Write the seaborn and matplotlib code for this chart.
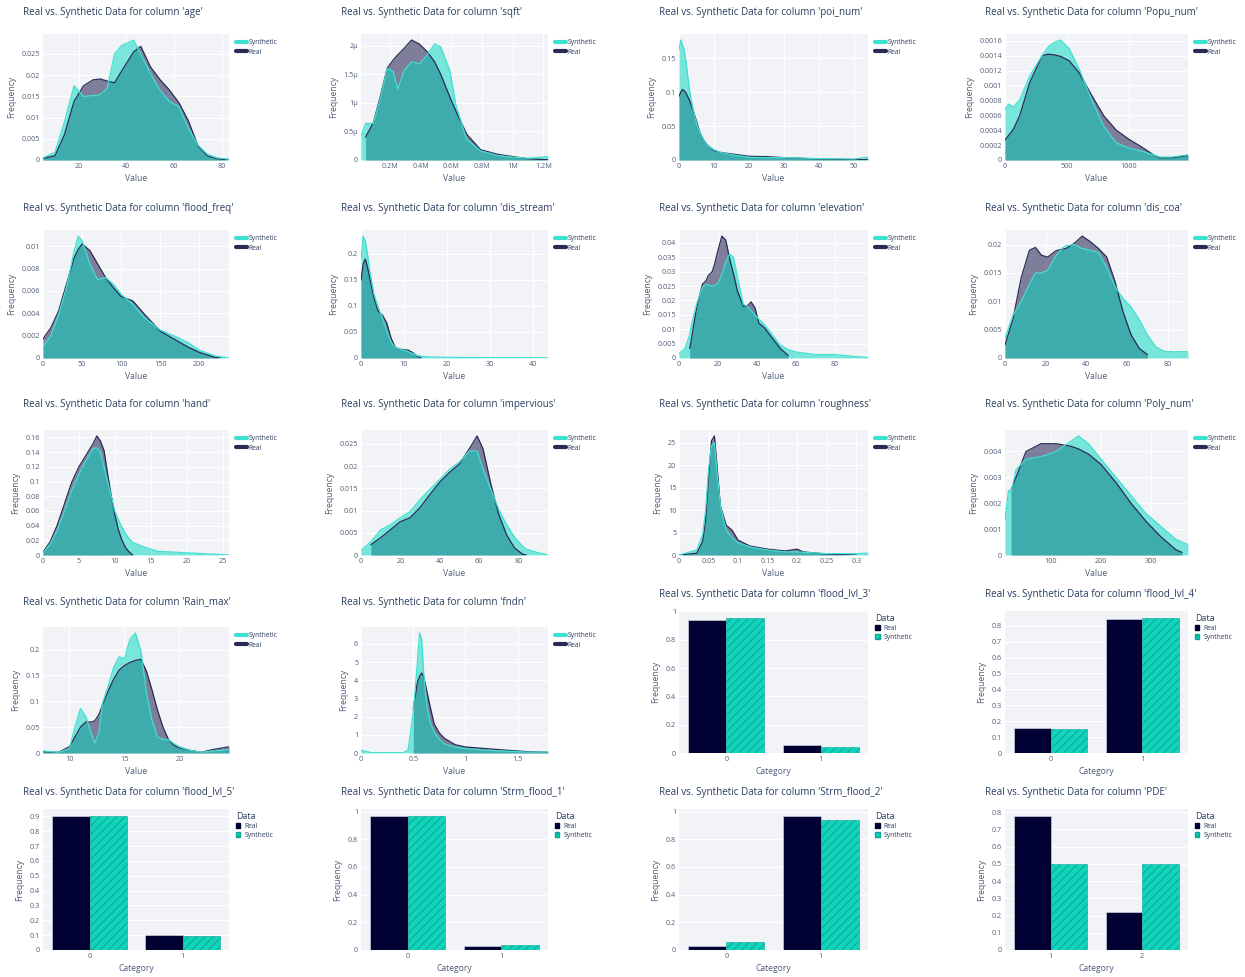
import numpy as np
import pandas as pd
import seaborn as sns
import matplotlib as mpl
import matplotlib.pyplot as plt
from matplotlib.ticker import MultipleLocator, FuncFormatter
from matplotlib.lines import Line2D
from matplotlib.patches import Patch

mpl.use('Agg')
sns.set_theme(style='white')
plt.rcParams['font.family'] = ['Open Sans', 'DejaVu Sans']
plt.rcParams['hatch.linewidth'] = 0.7

nan = np.nan

# ---------------- density curves ----------------
age_x = [5, 10, 14, 18, 22, 26, 29, 32, 35, 38, 43, 46, 50, 54, 58, 62, 66, 70, 74, 78, 83]
age_real = [0.0004, 0.001, 0.006, 0.0138, 0.0175, 0.0189, 0.0191, 0.0186, 0.0182, 0.021, 0.0255,
            0.0268, 0.022, 0.019, 0.0165, 0.0135, 0.0092, 0.0033, 0.001, 0.0003, 0.0]
age_synth = [0.0005, 0.0018, 0.009, 0.0175, 0.015, 0.0152, 0.0154, 0.017, 0.025, 0.027, 0.0283,
             0.025, 0.0205, 0.0165, 0.0138, 0.0126, 0.0075, 0.0035, 0.0013, 0.0005, 0.0002]

sqft_x = [0.01e6, 0.04e6, 0.09e6, 0.135e6, 0.18e6, 0.22e6, 0.25e6, 0.29e6, 0.34e6, 0.39e6, 0.44e6,
          0.49e6, 0.53e6, 0.59e6, 0.63e6, 0.7e6, 0.79e6, 0.9e6, 1.0e6, 1.1e6, 1.23e6]
sqft_real = np.array([nan, 0.4, 0.65, 1.1, 1.6, 1.75, 1.84, 1.95, 2.1, 2.03, 1.9, 1.72, 1.5, 1.1,
                      0.85, 0.45, 0.18, 0.1, 0.06, 0.02, 0.005]) * 1e-6
sqft_synth = np.array([0.42, 0.64, 0.64, 1.06, 1.6, 1.55, 1.24, 1.56, 1.72, 1.68, 1.83, 2.03, 1.98,
                       1.56, 0.95, 0.36, 0.16, 0.08, 0.05, 0.03, 0.06]) * 1e-6

poi_x = [0, 0.5, 1, 1.5, 2, 3, 4, 5, 6, 7, 8, 10, 12, 15, 20, 25, 30, 40, 50, 54]
poi_real = [0.094, 0.1, 0.104, 0.102, 0.099, 0.088, 0.074, 0.057, 0.04, 0.03, 0.0225, 0.014,
            0.011, 0.009, 0.0055, 0.005, 0.0035, 0.0015, 0.0005, 0.0005]
poi_synth = [0.162, 0.177, 0.17, 0.162, 0.145, 0.103, 0.075, 0.054, 0.04, 0.03, 0.022, 0.015,
             0.011, 0.008, 0.004, 0.0035, 0.0035, 0.002, 0.0015, 0.004]

popu_x = [0, 30, 70, 120, 200, 300, 350, 400, 450, 520, 600, 700, 800, 900, 1000, 1100, 1200,
          1250, 1350, 1480]
popu_real = [0.00027, 0.00033, 0.00042, 0.0006, 0.00104, 0.0014, 0.00142, 0.00141, 0.00139,
             0.00133, 0.00117, 0.00087, 0.00059, 0.0004, 0.00028, 0.00018, 0.00007, 0.00003,
             0.00003, 0.00006]
popu_synth = [0.00068, 0.00075, 0.00071, 0.00081, 0.00113, 0.0014, 0.00152, 0.00158, 0.00161,
              0.00149, 0.00122, 0.00081, 0.00045, 0.00023, 0.00016, 0.00012, 0.00007, 0.00004,
              0.00004, 0.00007]

ff_x = [0, 10, 20, 30, 40, 45, 50, 60, 70, 80, 90, 100, 115, 130, 150, 170, 185, 200, 220, 228, 238]
ff_real = [0.0017, 0.0027, 0.0042, 0.0066, 0.009, 0.0097, 0.0102, 0.0096, 0.0084, 0.0072, 0.0063,
           0.0055, 0.0051, 0.0039, 0.0024, 0.0016, 0.001, 0.0005, 0.00005, 0.0, nan]
ff_synth = [0.001, 0.002, 0.0039, 0.0063, 0.0096, 0.0109, 0.0105, 0.0084, 0.007, 0.0072, 0.0066,
            0.0057, 0.0048, 0.0036, 0.0025, 0.0019, 0.0014, 0.0007, 0.0002, 0.0001, 0.0]

ds_x = [0, 0.5, 1, 1.5, 2, 3, 4, 5, 6, 7, 8, 9, 10, 11, 12, 13, 14, 16, 20, 30, 43.5]
ds_real = [0.149, 0.18, 0.19, 0.175, 0.155, 0.116, 0.09, 0.082, 0.067, 0.038, 0.02, 0.017, 0.016,
           0.015, 0.0105, 0.004, 0.0, nan, nan, nan, nan]
ds_synth = [0.188, 0.234, 0.225, 0.2, 0.169, 0.123, 0.097, 0.077, 0.051, 0.031, 0.02, 0.017, 0.015,
            0.012, 0.0085, 0.005, 0.003, 0.002, 0.0013, 0.0007, 0.0005]

el_x = [0, 3, 5.5, 6, 9, 12, 14, 15, 17, 18, 20, 22, 24, 26, 28, 30, 33, 35, 37, 39, 41, 44, 48,
        52, 56, 60, 70, 80, 90, 97]
el_real = [nan, nan, 0.0033, 0.005, 0.0174, 0.0256, 0.027, 0.0286, 0.030, 0.032, 0.0374, 0.0424,
           0.041, 0.0345, 0.0292, 0.0233, 0.018, 0.018, 0.0195, 0.0174, 0.0121, 0.0104, 0.0068,
           0.0033, 0.0009, nan, nan, nan, nan, nan]
el_synth = [0.0015, 0.0033, 0.008, 0.0104, 0.0186, 0.0247, 0.0256, 0.0254, 0.025, 0.0252, 0.0259,
            0.029, 0.0335, 0.0362, 0.035, 0.028, 0.0186, 0.018, 0.0165, 0.015, 0.0135, 0.0115,
            0.008, 0.0045, 0.0029, 0.0021, 0.0012, 0.0012, 0.0005, 0.0002]

dc_x = [0, 4, 8, 12, 15, 18, 21, 25, 28, 30, 34, 38, 42, 46, 50, 54, 58, 62, 66, 70, 74, 78, 82, 90]
dc_real = [0.0023, 0.007, 0.0142, 0.019, 0.0195, 0.0181, 0.0178, 0.0189, 0.0192, 0.0193, 0.0202,
           0.0215, 0.0205, 0.0193, 0.0178, 0.0136, 0.0082, 0.0041, 0.0017, 0.0006, nan, nan, nan, nan]
dc_synth = [0.0035, 0.0076, 0.01, 0.013, 0.015, 0.015, 0.0155, 0.018, 0.0193, 0.0198, 0.02, 0.0193,
            0.019, 0.0186, 0.016, 0.0127, 0.0105, 0.009, 0.0068, 0.0041, 0.002, 0.0012, 0.0011, 0.0011]

hand_x = [0, 1, 2, 3, 4, 5, 6, 7, 7.5, 8, 8.5, 9, 9.5, 10, 10.5, 11, 11.5, 12, 12.5, 14, 16, 20, 25.9]
hand_real = [0.004, 0.018, 0.041, 0.07, 0.099, 0.12, 0.136, 0.152, 0.162, 0.155, 0.142, 0.11, 0.081,
             0.055, 0.034, 0.02, 0.01, 0.004, 0.0, nan, nan, nan, nan]
hand_synth = [0.003, 0.015, 0.034, 0.06, 0.088, 0.11, 0.129, 0.145, 0.146, 0.14, 0.12, 0.1, 0.08,
              0.06, 0.048, 0.038, 0.029, 0.022, 0.017, 0.011, 0.005, 0.003, 0.0]

imp_x = [0, 5, 10, 15, 20, 25, 30, 35, 40, 45, 50, 55, 59, 62, 66, 70, 74, 78, 82, 84, 90, 95]
imp_real = [nan, 0.0023, 0.0039, 0.0057, 0.0075, 0.0084, 0.0107, 0.0136, 0.0164, 0.0186, 0.0205,
            0.0239, 0.0268, 0.0239, 0.0159, 0.0091, 0.0045, 0.0016, 0.0002, 0.0, nan, nan]
imp_synth = [0.001, 0.003, 0.0057, 0.0068, 0.0084, 0.0098, 0.0125, 0.0148, 0.017, 0.0193, 0.0209,
             0.0234, 0.0234, 0.0193, 0.0148, 0.0102, 0.0068, 0.004, 0.002, 0.0013, 0.0005, 0.0]

rough_x = [0, 0.03, 0.04, 0.045, 0.05, 0.055, 0.06, 0.065, 0.07, 0.08, 0.09, 0.1, 0.12, 0.15, 0.18,
           0.2, 0.21, 0.25, 0.3, 0.32]
rough_real = [0, 0.4, 3, 7.7, 17, 25.4, 26.5, 18.8, 11, 6.6, 5.5, 3.3, 2, 1.3, 0.9, 1.3, 0.7, 0.2, 0, nan]
rough_synth = [0, 1.1, 4.5, 10, 19, 24.3, 25, 17.7, 11, 5.5, 3.8, 2.7, 1.8, 1.1, 0.7, 0.7, 0.6, 0.3,
               0.3, 0.4]

poly_x = [8, 15, 20, 30, 50, 80, 110, 140, 155, 175, 200, 230, 260, 290, 320, 350, 362, 374]
poly_real = [nan, nan, 0.0025, 0.003, 0.004, 0.0043, 0.0043, 0.0042, 0.0041, 0.0039, 0.0035,
             0.0028, 0.002, 0.0013, 0.0007, 0.0002, 0.0001, nan]
poly_synth = [0.00135, 0.0025, 0.0024, 0.0033, 0.0037, 0.0038, 0.004, 0.0044, 0.0046, 0.0043,
              0.0037, 0.003, 0.0023, 0.0016, 0.0011, 0.0006, 0.0005, 0.0004]

rain_x = [7.6, 9, 10, 10.5, 11, 11.5, 12, 12.3, 12.7, 13, 13.5, 14, 14.5, 15, 15.5, 16, 16.5, 17,
          17.5, 18, 18.5, 19, 19.5, 20, 21, 22, 23, 24.5]
rain_real = [0.0026, 0.0013, 0.012, 0.031, 0.05, 0.06, 0.06, 0.062, 0.075, 0.093, 0.119, 0.142,
             0.16, 0.169, 0.175, 0.179, 0.181, 0.158, 0.122, 0.083, 0.05, 0.026, 0.015, 0.01,
             0.005, 0.0013, 0.0065, 0.012]
rain_synth = [0.004, 0.0013, 0.0084, 0.05, 0.086, 0.07, 0.037, 0.019, 0.041, 0.096, 0.128, 0.164,
              0.186, 0.182, 0.22, 0.232, 0.197, 0.116, 0.064, 0.031, 0.026, 0.026, 0.018, 0.012,
              0.005, 0.0013, 0.004, 0.0065]

fndn_x = [0, 0.1, 0.4, 0.45, 0.5, 0.54, 0.56, 0.58, 0.6, 0.63, 0.66, 0.7, 0.75, 0.8, 0.9, 1.0,
          1.2, 1.4, 1.6, 1.79]
fndn_real = [nan, nan, nan, nan, 2.4, 3.9, 4.2, 4.4, 4.2, 3.4, 2.6, 1.6, 1.1, 0.8, 0.46, 0.33,
             0.24, 0.15, 0.07, 0.04]
fndn_synth = [0.15, 0.02, 0.02, 0.15, 2.2, 5.0, 6.6, 6.3, 4.4, 2.6, 1.7, 1.15, 0.75, 0.5, 0.33,
              0.24, 0.15, 0.1, 0.05, 0.05]

# ---------------- categorical columns ----------------
lvl3_cats, lvl3_real, lvl3_synth = ['0', '1'], [0.94, 0.055], [0.955, 0.04]
lvl4_cats, lvl4_real, lvl4_synth = ['0', '1'], [0.16, 0.84], [0.15, 0.85]
lvl5_cats, lvl5_real, lvl5_synth = ['0', '1'], [0.9, 0.1], [0.905, 0.095]
strm1_cats, strm1_real, strm1_synth = ['0', '1'], [0.97, 0.03], [0.965, 0.035]
strm2_cats, strm2_real, strm2_synth = ['0', '1'], [0.03, 0.97], [0.06, 0.94]
pde_cats, pde_real, pde_synth = ['1', '2'], [0.78, 0.22], [0.5, 0.5]

# ---------------- style ----------------
W, H = 1245, 977
BG = '#F2F3F7'
TXT = '#2a3f5f'
TICK = '#4f5d78'
REAL_LINE = '#2b2a55'
REAL_FILL = '#141446'
SYN_FILL = '#00D9C1'
SYN = '#40E0D0'
REAL_BAR = '#000033'
SYN_BAR = '#12d3bc'
HATCH = '#0aa893'

COL_L = [43, 361, 679, 1005]
COL_R = [229, 548, 868, 1188]
DENS_ROWS = [(34, 160), (230, 358), (430, 555), (627, 753)]
DENS_TITLE_Y = [12, 208, 405, 603]
BAR_ROWS = {3: (611, 753), 4: (809, 950)}
BAR_TITLE_Y = {3: 595, 4: 793}


def plain_fmt(v, pos):
    if abs(v) < 1e-12:
        return '0'
    return f'{v:.6g}'


def si_fmt(v, pos):
    if abs(v) < 1e-15:
        return '0'
    if abs(v) >= 1e5:
        return f'{v / 1e6:.6g}M'
    if abs(v) < 1e-3:
        return f'{v * 1e6:.6g}\u00b5'
    return f'{v:.6g}'


def add_ax(fig, row_tb, col):
    top, bot = row_tb
    l, r = COL_L[col], COL_R[col]
    return fig.add_axes([l / W, 1 - bot / H, (r - l) / W, (bot - top) / H])


def style_ax(ax, xstep, ystep, fmt):
    ax.set_facecolor(BG)
    for s in ax.spines.values():
        s.set_visible(False)
    ax.grid(True, color='white', linewidth=0.8)
    ax.set_axisbelow(True)
    ax.yaxis.set_major_locator(MultipleLocator(ystep))
    if xstep is not None:
        ax.xaxis.set_major_locator(MultipleLocator(xstep))
        ax.xaxis.set_major_formatter(FuncFormatter(fmt))
    ax.yaxis.set_major_formatter(FuncFormatter(fmt))
    ax.tick_params(length=0, labelsize=5.2, colors=TICK, pad=2)


def add_title(fig, name, col, y_px):
    fig.text((COL_L[col] - 20) / W, 1 - y_px / H,
             f"Real vs. Synthetic Data for column '{name}'",
             fontsize=7.1, color=TXT, ha='left', va='center')


def draw_density(fig, name, x, real, synth, xstep, ystep, row, col, fmt=plain_fmt):
    ax = add_ax(fig, DENS_ROWS[row], col)
    df = pd.DataFrame({'Value': x, 'Real': real, 'Synthetic': synth})
    ax.fill_between(df['Value'], df['Real'], color=REAL_FILL, alpha=0.52, linewidth=0)
    sns.lineplot(data=df, x='Value', y='Real', ax=ax, color=REAL_LINE, linewidth=0.9)
    ax.fill_between(df['Value'], df['Synthetic'], color=SYN_FILL, alpha=0.5, linewidth=0)
    sns.lineplot(data=df, x='Value', y='Synthetic', ax=ax, color=SYN, linewidth=0.9)
    ymax = np.nanmax(np.concatenate([np.asarray(real, float), np.asarray(synth, float)]))
    ax.set_xlim(x[0], x[-1])
    ax.set_ylim(0, ymax * 1.05)
    style_ax(ax, xstep, ystep, fmt)
    ax.set_xlabel('Value', fontsize=6.2, color=TICK, labelpad=3)
    ax.set_ylabel('Frequency', fontsize=6.2, color=TICK, labelpad=4)
    handles = [Line2D([0], [0], color=SYN, lw=3), Line2D([0], [0], color=REAL_LINE, lw=3)]
    ax.legend(handles, ['Synthetic', 'Real'], loc='upper left', bbox_to_anchor=(1.025, 0.98),
              frameon=False, fontsize=4.9, handlelength=1.5, handletextpad=0.25,
              labelspacing=0.35, borderaxespad=0, labelcolor=TXT)
    add_title(fig, name, col, DENS_TITLE_Y[row])


def draw_bars(fig, name, cats, real, synth, ystep, row, col):
    ax = add_ax(fig, BAR_ROWS[row], col)
    df = pd.DataFrame({'Category': list(cats) * 2,
                       'Frequency': list(real) + list(synth),
                       'Data': ['Real'] * len(cats) + ['Synthetic'] * len(cats)})
    sns.barplot(data=df, x='Category', y='Frequency', hue='Data', order=cats,
                hue_order=['Real', 'Synthetic'], palette={'Real': REAL_BAR, 'Synthetic': SYN_BAR},
                saturation=1, width=0.8, legend=False, ax=ax)
    for bar in ax.containers[0]:
        bar.set_edgecolor('#dfe3ee')
        bar.set_linewidth(0.4)
    for bar in ax.containers[1]:
        bar.set_hatch('////')
        bar.set_edgecolor(HATCH)
        bar.set_linewidth(0.4)
    ax.set_xlim(-0.5, len(cats) - 0.5)
    ax.set_ylim(0, max(max(real), max(synth)) * 1.05)
    style_ax(ax, None, ystep, plain_fmt)
    ax.xaxis.grid(False)
    ax.set_xlabel('Category', fontsize=6.2, color=TICK, labelpad=3)
    ax.set_ylabel('Frequency', fontsize=6.2, color=TICK, labelpad=4)
    handles = [Patch(facecolor=REAL_BAR, edgecolor=REAL_BAR),
               Patch(facecolor=SYN_BAR, edgecolor=HATCH, hatch='////')]
    leg = ax.legend(handles, ['Real', 'Synthetic'], title='Data', loc='upper left',
                    bbox_to_anchor=(1.025, 1.0), frameon=False, fontsize=4.9,
                    title_fontsize=6.4, handlelength=0.6, handleheight=0.6, handletextpad=0.6,
                    labelspacing=0.3, borderaxespad=0, labelcolor=TXT)
    leg.get_title().set_color(TXT)
    leg._legend_box.align = 'left'
    add_title(fig, name, col, BAR_TITLE_Y[row])


fig = plt.figure(figsize=(W / 100, H / 100), dpi=100)
fig.patch.set_facecolor('white')

draw_density(fig, 'age', age_x, age_real, age_synth, 20, 0.005, 0, 0)
draw_density(fig, 'sqft', sqft_x, sqft_real, sqft_synth, 0.2e6, 0.5e-6, 0, 1, si_fmt)
draw_density(fig, 'poi_num', poi_x, poi_real, poi_synth, 10, 0.05, 0, 2)
draw_density(fig, 'Popu_num', popu_x, popu_real, popu_synth, 500, 0.0002, 0, 3)
draw_density(fig, 'flood_freq', ff_x, ff_real, ff_synth, 50, 0.002, 1, 0)
draw_density(fig, 'dis_stream', ds_x, ds_real, ds_synth, 10, 0.05, 1, 1)
draw_density(fig, 'elevation', el_x, el_real, el_synth, 20, 0.005, 1, 2)
draw_density(fig, 'dis_coa', dc_x, dc_real, dc_synth, 20, 0.005, 1, 3)
draw_density(fig, 'hand', hand_x, hand_real, hand_synth, 5, 0.02, 2, 0)
draw_density(fig, 'impervious', imp_x, imp_real, imp_synth, 20, 0.005, 2, 1)
draw_density(fig, 'roughness', rough_x, rough_real, rough_synth, 0.05, 5, 2, 2)
draw_density(fig, 'Poly_num', poly_x, poly_real, poly_synth, 100, 0.001, 2, 3)
draw_density(fig, 'Rain_max', rain_x, rain_real, rain_synth, 5, 0.05, 3, 0)
draw_density(fig, 'fndn', fndn_x, fndn_real, fndn_synth, 0.5, 1, 3, 1)

draw_bars(fig, 'flood_lvl_3', lvl3_cats, lvl3_real, lvl3_synth, 0.2, 3, 2)
draw_bars(fig, 'flood_lvl_4', lvl4_cats, lvl4_real, lvl4_synth, 0.1, 3, 3)
draw_bars(fig, 'flood_lvl_5', lvl5_cats, lvl5_real, lvl5_synth, 0.1, 4, 0)
draw_bars(fig, 'Strm_flood_1', strm1_cats, strm1_real, strm1_synth, 0.2, 4, 1)
draw_bars(fig, 'Strm_flood_2', strm2_cats, strm2_real, strm2_synth, 0.2, 4, 2)
draw_bars(fig, 'PDE', pde_cats, pde_real, pde_synth, 0.1, 4, 3)

fig.savefig('out.png', dpi=100, facecolor='white')
plt.close(fig)
